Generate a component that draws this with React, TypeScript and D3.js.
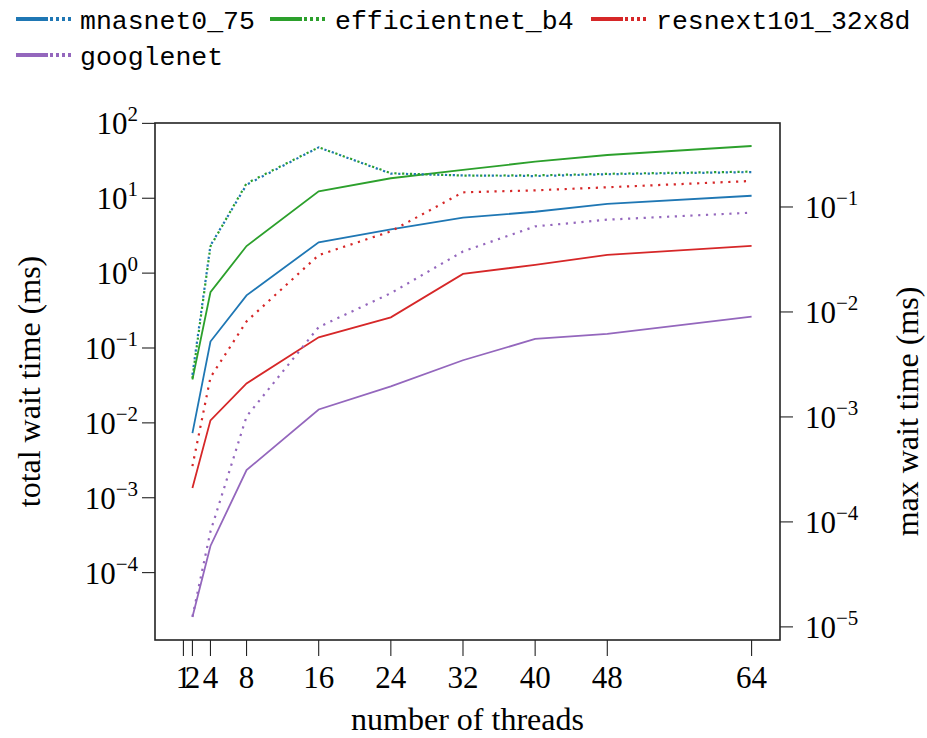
import React from "react";
import * as d3 from "d3";

const threads = [2, 4, 8, 16, 24, 32, 40, 48, 64];
const xTicks = [1, 2, 4, 8, 16, 24, 32, 40, 48, 64];
const leftTickExps = [2, 1, 0, -1, -2, -3, -4];
const rightTickExps = [-1, -2, -3, -4, -5];

const modelNames = ["mnasnet0_75", "efficientnet_b4", "resnext101_32x8d", "googlenet"];
const modelColors = ["#1f77b4", "#2ca02c", "#d62728", "#9467bd"];

// total wait time (ms) – left axis, solid
const totalMnasnet = [0.0073, 0.122, 0.505, 2.58, 3.85, 5.5, 6.6, 8.4, 10.8];
const totalEfficientnet = [0.038, 0.556, 2.3, 12.4, 18.5, 23.9, 30.8, 37.8, 49.9];
const totalResnext = [0.00135, 0.0108, 0.0336, 0.139, 0.257, 0.975, 1.29, 1.75, 2.31];
const totalGooglenet = [2.55e-5, 2.27e-4, 2.34e-3, 0.0151, 0.0308, 0.0686, 0.132, 0.154, 0.262];

// max wait time (ms) – right axis, dotted
const maxMnasnet = [0.00252, 0.043, 0.163, 0.37, 0.208, 0.2, 0.197, 0.205, 0.215];
const maxEfficientnet = [0.00233, 0.0422, 0.168, 0.37, 0.21, 0.199, 0.2, 0.207, 0.217];
const maxResnext = [0.00034, 0.00238, 0.00813, 0.0348, 0.0586, 0.138, 0.144, 0.154, 0.177];
const maxGooglenet = [1.25e-5, 8.1e-5, 0.00101, 0.00718, 0.0151, 0.0377, 0.0653, 0.0757, 0.0883];

const totals = [totalMnasnet, totalEfficientnet, totalResnext, totalGooglenet];
const maxes = [maxMnasnet, maxEfficientnet, maxResnext, maxGooglenet];

const W = 927;
const H = 738;
const L = 155, R = 780, T = 123, B = 640;
const SERIF = "'Liberation Serif', 'Times New Roman', serif";
const MONO = "'Liberation Mono', 'DejaVu Sans Mono', monospace";

const sup = (e: number) => (e < 0 ? "\u2212" + Math.abs(e) : String(e));

export default function App() {
  const x = d3.scaleLinear().domain([-2.15, 67.15]).range([L, R]);
  const yL = d3.scaleLog().domain([Math.pow(10, -4.9), Math.pow(10, 2.005)]).range([B, T]);
  const yR = d3.scaleLog().domain([Math.pow(10, -5.125), Math.pow(10, -0.2)]).range([B, T]);

  const lineL = d3
    .line<number>()
    .x((_, i) => x(threads[i]))
    .y((d) => yL(d));
  const lineR = d3
    .line<number>()
    .x((_, i) => x(threads[i]))
    .y((d) => yR(d));

  const legendItems = [
    { name: modelNames[0], color: modelColors[0], lx: 16, tx: 80, y: 19 },
    { name: modelNames[1], color: modelColors[1], lx: 270, tx: 335, y: 19 },
    { name: modelNames[2], color: modelColors[2], lx: 591, tx: 656, y: 19 },
    { name: modelNames[3], color: modelColors[3], lx: 16, tx: 80, y: 55 },
  ];

  return (
    <svg width={W} height={H} style={{ display: "block", position: "absolute", left: 0, top: 0, background: "#fff" }}>
      <rect x={0} y={0} width={W} height={H} fill="#fff" />
      {/* legend */}
      {legendItems.map((it) => (
        <g key={it.name}>
          <line x1={it.lx} x2={it.lx + 32} y1={it.y} y2={it.y} stroke={it.color} strokeWidth={4} />
          <line
            x1={it.lx + 34}
            x2={it.lx + 56}
            y1={it.y}
            y2={it.y}
            stroke={it.color}
            strokeWidth={4}
            strokeDasharray="3 3"
          />
          <text x={it.tx} y={it.y + 10} fontFamily={MONO} fontSize={26.5} fill="#000">
            {it.name}
          </text>
        </g>
      ))}

      {/* lines */}
      <g clipPath="url(#clip)">
        {totals.map((s, i) => (
          <path key={"t" + i} d={lineL(s) || ""} fill="none" stroke={modelColors[i]} strokeWidth={1.8} />
        ))}
        {maxes.map((s, i) => (
          <path
            key={"m" + i}
            d={lineR(s) || ""}
            fill="none"
            stroke={modelColors[i]}
            strokeWidth={2.2}
            strokeDasharray="2.2 5.6"
          />
        ))}
      </g>
      <defs>
        <clipPath id="clip">
          <rect x={L} y={T} width={R - L} height={B - T} />
        </clipPath>
      </defs>

      {/* frame */}
      <rect x={L} y={T} width={R - L} height={B - T} fill="none" stroke="#222" strokeWidth={1.6} />

      {/* x ticks */}
      {xTicks.map((t) => (
        <g key={"x" + t}>
          <line x1={x(t)} x2={x(t)} y1={B} y2={B + 16} stroke="#222" strokeWidth={1.1} />
          <text x={x(t)} y={B + 48} textAnchor="middle" fontFamily={SERIF} fontSize={31} fill="#000">
            {t}
          </text>
        </g>
      ))}
      <text x={(L + R) / 2 - 0} y={H - 8} textAnchor="middle" fontFamily={SERIF} fontSize={32} fill="#000">
        number of threads
      </text>

      {/* left ticks */}
      {leftTickExps.map((e) => {
        const yy = yL(Math.pow(10, e));
        return (
          <g key={"l" + e}>
            <line x1={L - 13} x2={L} y1={yy} y2={yy} stroke="#222" strokeWidth={1.1} />
            <text x={L - 17} y={yy + 11} textAnchor="end" fontFamily={SERIF} fontSize={31} fill="#000">
              10
              <tspan dy={-13} fontSize={21}>
                {sup(e)}
              </tspan>
            </text>
          </g>
        );
      })}
      <text
        transform={`translate(40, ${(T + B) / 2 + 0}) rotate(-90)`}
        textAnchor="middle"
        fontFamily={SERIF}
        fontSize={32}
        fill="#000"
      >
        total wait time (ms)
      </text>

      {/* right ticks */}
      {rightTickExps.map((e) => {
        const yy = yR(Math.pow(10, e));
        return (
          <g key={"r" + e}>
            <line x1={R} x2={R + 13} y1={yy} y2={yy} stroke="#222" strokeWidth={1.1} />
            <text x={R + 25} y={yy + 11} textAnchor="start" fontFamily={SERIF} fontSize={31} fill="#000">
              10
              <tspan dy={-13} fontSize={21}>
                {sup(e)}
              </tspan>
            </text>
          </g>
        );
      })}
      <text
        transform={`translate(918, ${(T + B) / 2 + 30}) rotate(-90)`}
        textAnchor="middle"
        fontFamily={SERIF}
        fontSize={32}
        fill="#000"
      >
        max wait time (ms)
      </text>
    </svg>
  );
}
